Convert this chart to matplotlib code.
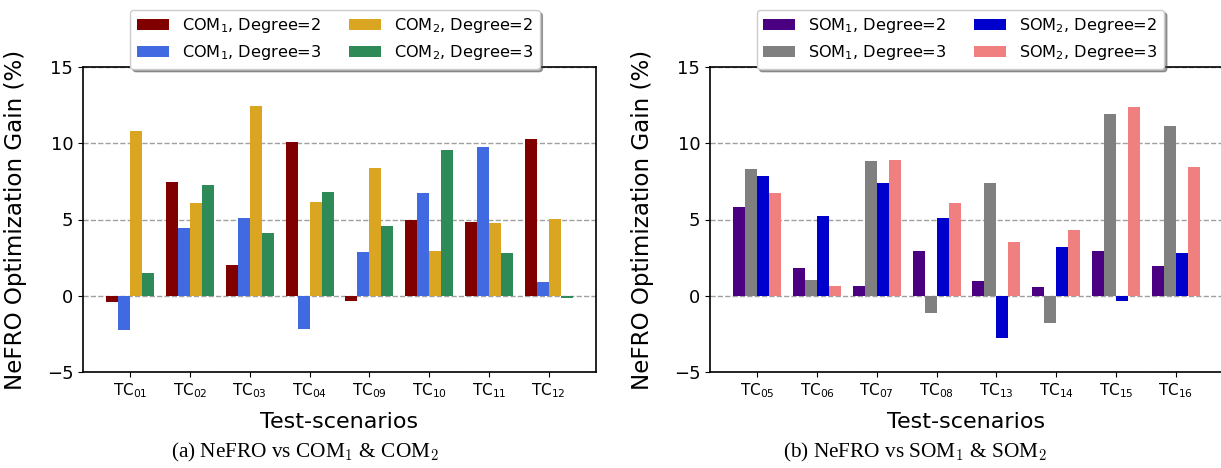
import matplotlib
matplotlib.use("Agg")
import matplotlib.pyplot as plt
import numpy as np

# ---- data ----
cats_a = ["TC$_{01}$", "TC$_{02}$", "TC$_{03}$", "TC$_{04}$", "TC$_{09}$", "TC$_{10}$", "TC$_{11}$", "TC$_{12}$"]
com1_d2 = [-0.42, 7.48, 2.02, 10.11, -0.33, 4.98, 4.85, 10.31]
com1_d3 = [-2.24, 4.45, 5.11, -2.17, 2.87, 6.75, 9.78, 0.90]
com2_d2 = [10.83, 6.10, 12.41, 6.16, 8.40, 2.94, 4.78, 5.02]
com2_d3 = [1.49, 7.28, 4.12, 6.82, 4.58, 9.58, 2.81, -0.15]

cats_b = ["TC$_{05}$", "TC$_{06}$", "TC$_{07}$", "TC$_{08}$", "TC$_{13}$", "TC$_{14}$", "TC$_{15}$", "TC$_{16}$"]
som1_d2 = [5.83, 1.82, 0.64, 2.94, 0.96, 0.57, 2.94, 1.95]
som1_d3 = [8.33, 1.03, 8.86, -1.14, 7.41, -1.80, 11.95, 11.10]
som2_d2 = [7.87, 5.24, 7.41, 5.11, -2.76, 3.20, -0.33, 2.81]
som2_d3 = [6.75, 0.64, 8.93, 6.10, 3.53, 4.32, 12.35, 8.46]

labels_a = ["COM$_1$, Degree=2", "COM$_1$, Degree=3", "COM$_2$, Degree=2", "COM$_2$, Degree=3"]
labels_b = ["SOM$_1$, Degree=2", "SOM$_1$, Degree=3", "SOM$_2$, Degree=2", "SOM$_2$, Degree=3"]
colors_a = ["#800000", "#4169E1", "#DAA520", "#2E8B57"]
colors_b = ["#4B0082", "#808080", "#0000CD", "#F08080"]
yticks = [-5, 0, 5, 10, 15]

fig = plt.figure(figsize=(12.21, 4.68), dpi=100)
W, H = 1221, 468

def panel(left_px, cats, series, labels, colors, leg_x):
    ax = fig.add_axes([left_px / W, (H - 372) / H, 513 / W, 305 / H])
    x = np.arange(len(cats))
    w = 0.2
    for i, (s, lab, c) in enumerate(zip(series, labels, colors)):
        ax.bar(x + (i - 1.5) * w, s, w, color=c, label=lab, zorder=3)
    ax.set_xlim(-0.79, 7.79)
    ax.set_ylim(-5, 15)
    ax.set_yticks(yticks)
    ax.set_xticks(x)
    ax.set_xticklabels(cats, fontsize=11)
    ax.tick_params(axis="y", labelsize=13)
    ax.yaxis.grid(True, linestyle="--", color="#a0a0a0", linewidth=1.0, zorder=0)
    ax.set_axisbelow(True)
    for sp in ax.spines.values():
        sp.set_linewidth(1.2)
    ax.set_ylabel("NeFRO Optimization Gain (%)", fontsize=16.6, labelpad=14)
    ax.set_xlabel("Test-scenarios", fontsize=16, labelpad=8)
    ax.legend(ncol=2, loc="upper center", bbox_to_anchor=(leg_x, 1.187),
              fontsize=11.6, shadow=True, columnspacing=1.7, handlelength=2.0,
              borderaxespad=0.0, fancybox=True)
    return ax

panel(83, cats_a, [com1_d2, com1_d3, com2_d2, com2_d3], labels_a, colors_a, 0.491)
panel(710, cats_b, [som1_d2, som1_d3, som2_d2, som2_d3], labels_b, colors_b, 0.488)

fig.text(305 / W, 1 - 452 / H, "(a) NeFRO vs COM$_1$ & COM$_2$", ha="center", va="center",
         fontsize=15.3, family="Liberation Serif", math_fontfamily="cm")
fig.text(915 / W, 1 - 452 / H, "(b) NeFRO vs SOM$_1$ & SOM$_2$", ha="center", va="center",
         fontsize=15.3, family="Liberation Serif", math_fontfamily="cm")

fig.savefig("out.png", dpi=100)
